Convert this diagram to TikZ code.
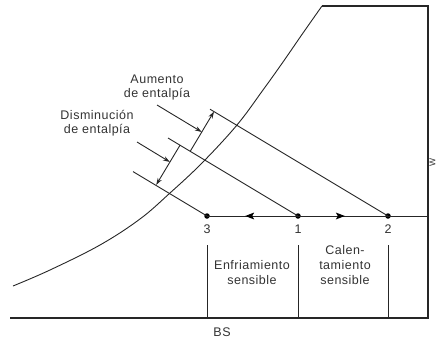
\documentclass[tikz,border=0pt]{standalone}
\usepackage{fontspec}
\setmainfont{Liberation Sans}[LetterSpace=4]
\usetikzlibrary{arrows.meta,decorations.markings}
\begin{document}
\begin{tikzpicture}[x=1pt,y=-1pt,
  ln/.style={line width=0.9pt, black!85},
  axis/.style={line width=1.1pt, black!85},
  lbl/.style={font=\fontsize{12.5}{13}\selectfont, inner sep=0pt, align=center, text=black!80},
  tip/.style={-{Stealth[length=7pt,width=4.5pt]}},
  dot/.style={circle, fill=black, inner sep=0pt, minimum size=5.5pt},
  midarrow/.style={postaction={decorate}, decoration={markings, mark=at position #1 with {\fill[black] (0pt,0pt) -- (-9pt,3.5pt) -- (-7pt,0pt) -- (-9pt,-3.5pt) -- cycle;}}}]
\useasboundingbox (0,0) rectangle (438,340);
% axes
\coordinate (o) at (10,318);
\coordinate (br) at (428,318);
\coordinate (tr) at (428,6);
\coordinate (tl) at (322,6);
\draw[axis] (o) -- (br) -- (tr) -- (tl);
% saturation curve
\draw[ln] plot[smooth, tension=0.6] coordinates {(13,286) (50,270) (100,245) (140,219) (170,193) (202,163) (237,125) (263,90) (283,62) (303,33) (322,6)};
% state points
\node[dot] (p3) at (207,216) {};
\node[dot] (p1) at (298,216) {};
\node[dot] (p2) at (388,216) {};
\coordinate (e) at (428,216);
\draw[ln, midarrow=0.58] (p1.center) -- (p3.center);
\draw[ln, midarrow=0.52] (p1.center) -- (p2.center);
\draw[ln] (p2.center) -- (e);
% enthalpy lines
\coordinate (a0) at (210,109.2);
\coordinate (b0) at (168,138);
\coordinate (c0) at (133,171.6);
\draw[ln] (a0) -- (p2.center);
\draw[ln] (b0) -- (p1.center);
\draw[ln] (c0) -- (p3.center);
% dimension lines
\coordinate (ua) at (214,111.6);
\coordinate (ub) at (190.2,151.3);
\draw[ln, tip] (ub) -- (ua);
\coordinate (db) at (180,145.2);
\coordinate (dc) at (156.2,184.9);
\draw[ln, tip] (db) -- (dc);
% label arrows
\node[lbl] (aum) at (157,87) {Aumento\\[1pt]de entalpía};
\node[lbl] (dis) at (97,123) {Disminución\\[1pt]de entalpía};
\coordinate (aums) at (157,105);
\coordinate (aume) at (201.8,132);
\coordinate (diss) at (137,142);
\coordinate (dise) at (169.9,162);
\draw[ln, tip] (aums) -- (aume);
\draw[ln, tip] (diss) -- (dise);
% vertical separators
\coordinate (v3) at (207,245);
\coordinate (v1) at (298,245);
\coordinate (v2) at (388,245);
\coordinate (w3) at (207,318);
\coordinate (w1) at (298,318);
\coordinate (w2) at (388,318);
\draw[ln] (v3) -- (w3);
\draw[ln] (v1) -- (w1);
\draw[ln, line width=0.7pt] (v2) -- (w2);
% labels
\node[lbl] (l3) at (207,229) {3};
\node[lbl] (l1) at (298,229) {1};
\node[lbl] (l2) at (388,229) {2};
\node[lbl] (enf) at (252,273) {Enfriamiento\\[2pt]sensible};
\node[lbl] (cal) at (345,265) {Calen-\\[2pt]tamiento\\[2pt]sensible};
\node[lbl] (bs) at (222,332) {BS};
\node[lbl, font=\fontsize{8.5}{9}\selectfont, rotate=90] (w) at (432.5,162) {W};
\end{tikzpicture}
\end{document}
